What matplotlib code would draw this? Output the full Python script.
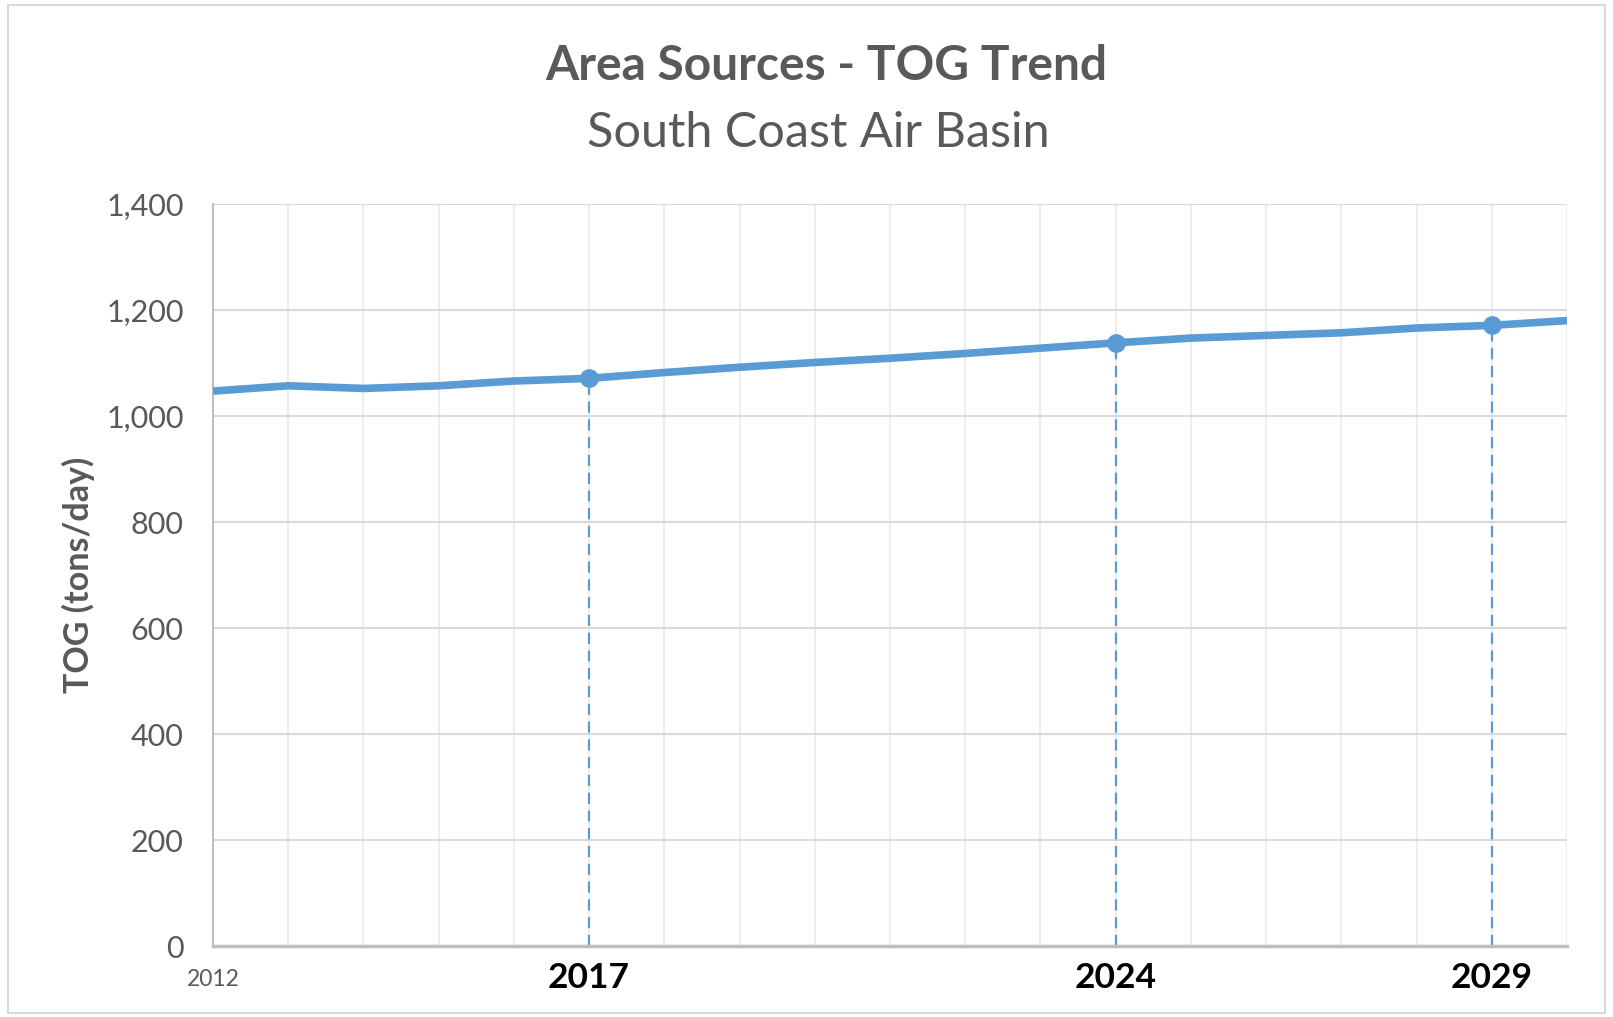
import matplotlib
matplotlib.use('Agg')
import matplotlib.pyplot as plt
from matplotlib.patches import Rectangle
from matplotlib.ticker import FuncFormatter

plt.rcParams['font.family'] = ['Lato', 'DejaVu Sans']

# data
years = list(range(2012, 2031))
tog = [1047, 1057, 1052, 1057, 1066, 1071, 1082, 1092, 1101, 1109,
       1118, 1128, 1138, 1147, 1152, 1157, 1166, 1171, 1180]
key_years = [2017, 2024, 2029]
first_label = '2012'

blue = '#5B9BD5'
grey_txt = '#595959'

fig = plt.figure(figsize=(16.13, 10.17), dpi=100)
ax = fig.add_axes([213 / 1613, 1 - 946 / 1017, (1567 - 213) / 1613, (946 - 204) / 1017])

ax.plot(years, tog, color=blue, lw=5.5, solid_capstyle='butt', zorder=3)

key_vals = [tog[years.index(y)] for y in key_years]
ax.plot(key_years, key_vals, 'o', color=blue, ms=12.5, zorder=4)
ax.vlines(key_years, 0, key_vals, colors=blue, linestyles=(0, (5, 3)), lw=1.6, zorder=2)

ax.set_xlim(years[0], years[-1])
ax.set_ylim(0, 1400)
ax.set_yticks(range(0, 1401, 200))
ax.yaxis.set_major_formatter(FuncFormatter(lambda v, p: f'{int(v):,}'))
ax.set_xticks(years)
ax.set_xticklabels([])

ax.grid(axis='y', color='#D9D9D9', lw=1.5, zorder=0)
ax.grid(axis='x', color='#EDEDED', lw=1.5, zorder=0)
ax.tick_params(length=0, labelsize=22, labelcolor=grey_txt, pad=21)

for s in ['top', 'right']:
    ax.spines[s].set_visible(False)
ax.spines['left'].set_color('#BFBFBF')
ax.spines['left'].set_linewidth(1.5)
ax.spines['bottom'].set_color('#BFBFBF')
ax.spines['bottom'].set_linewidth(2.5)

# year labels under the axis
ax.annotate(first_label, xy=(years[0], 0), xycoords=('data', 'axes fraction'),
            xytext=(0, -24), textcoords='offset points', ha='center', va='center',
            fontsize=16.5, color=grey_txt)
for y in key_years:
    ax.annotate(str(y), xy=(y, 0), xycoords=('data', 'axes fraction'),
                xytext=(0, -23), textcoords='offset points', ha='center', va='center',
                fontsize=25.5, fontweight='bold', color='black')

ax.set_ylabel('TOG (tons/day)', fontsize=24.5, fontweight='bold', color=grey_txt, labelpad=8)

fig.text(826 / 1613, 1 - 66 / 1017, 'Area Sources - TOG Trend', ha='center', va='center',
         fontsize=34.5, fontweight='bold', color=grey_txt)
fig.text(818 / 1613, 1 - 133 / 1017, 'South Coast Air Basin', ha='center', va='center',
         fontsize=35, color=grey_txt)

fig.add_artist(Rectangle((8 / 1613, 1 - 1013 / 1017), (1605 - 8) / 1613, (1013 - 5) / 1017,
                         transform=fig.transFigure, fill=False, edgecolor='#D9D9D9', lw=1.5))

fig.savefig('out.png', dpi=100)
